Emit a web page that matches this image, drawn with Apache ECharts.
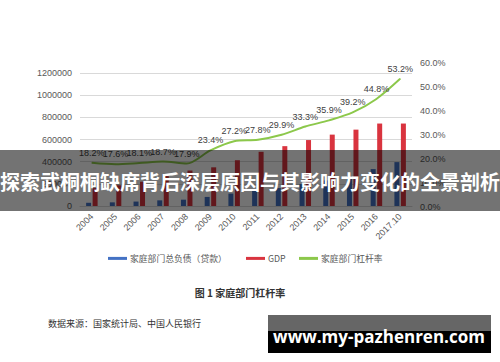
<!DOCTYPE html>
<html>
<head>
<meta charset="utf-8">
<script src="https://cdn.jsdelivr.net/npm/echarts@6/dist/echarts.min.js"></script>
<style>
html,body{margin:0;padding:0;background:#fff;}
#chart{width:500px;height:362px;}
</style>
</head>
<body>
<div id="chart"></div>
<script>
const categories = ['2004','2005','2006','2007','2008','2009','2010','2011','2012','2013','2014','2015','2016','2017.10'];
const householdDebt = [29000, 33000, 40000, 51000, 57000, 82000, 112000, 136000, 162000, 198000, 231000, 270000, 333000, 396000];
const gdp = [162000, 187000, 219000, 270000, 320000, 349000, 413000, 489000, 540000, 595000, 644000, 689000, 744000, 744000];
const leverage = [18.2, 17.6, 18.1, 18.7, 17.9, 23.4, 27.2, 27.8, 29.9, 33.3, 35.9, 39.2, 44.8, 53.2];
const leftTicks = {min: 0, max: 1200000, interval: 200000};
const rightTicks = {min: 0, max: 60, interval: 10};
const seriesNames = ['家庭部门总负债（贷款）', 'GDP', '家庭部门杠杆率'];
const captionText = '图 1 家庭部门杠杆率';
const sourceText = '数据来源：国家统计局、中国人民银行';
const bannerText = '探索武桐桐缺席背后深层原因与其影响力变化的全景剖析';
const watermarkText = 'www.my-pazhenren.com';

const FONT = 'Liberation Sans, Arial, Noto Sans CJK SC, sans-serif';
const CJK = 'Noto Sans CJK SC, sans-serif';
const chart = echarts.init(document.getElementById('chart'), null, {renderer: 'svg'});

const legendLefts = [103, 241, 294];
const legendBase = {
  top: 249, itemWidth: 19, itemHeight: 3,
  textStyle: {fontSize: 8.8, color: '#595959', fontFamily: CJK, padding: [0, 0, 0, -2]}
};

const option = {
  backgroundColor: '#ffffff',
  animation: false,
  textStyle: {fontFamily: FONT},
  grid: [
    {left: 80, right: 88, top: 73, bottom: 156},
    {left: 80, right: 88, top: 62.5, bottom: 155.5}
  ],
  legend: seriesNames.map((n, i) => Object.assign({}, legendBase, {
    left: legendLefts[i], data: [{name: n, icon: 'rect'}]
  })),
  xAxis: [
    {
      type: 'category', gridIndex: 0, data: categories,
      axisLine: {show: true, lineStyle: {color: '#d9d9d9'}},
      axisTick: {show: false},
      axisLabel: {rotate: 45, fontSize: 9, color: '#595959', margin: 9, interval: 0}
    },
    {type: 'category', gridIndex: 1, data: categories, show: false}
  ],
  yAxis: [
    {
      type: 'value', gridIndex: 0,
      min: leftTicks.min, max: leftTicks.max, interval: leftTicks.interval,
      axisLine: {show: false}, axisTick: {show: false},
      splitLine: {lineStyle: {color: '#d9d9d9'}},
      axisLabel: {fontSize: 9, color: '#595959', margin: 8, formatter: v => String(v)}
    },
    {
      type: 'value', gridIndex: 1, position: 'right',
      min: rightTicks.min, max: rightTicks.max, interval: rightTicks.interval,
      axisLine: {show: false}, axisTick: {show: false},
      splitLine: {show: false},
      axisLabel: {fontSize: 9, color: '#595959', margin: 8, formatter: v => v.toFixed(1) + '%'}
    }
  ],
  series: [
    {
      name: seriesNames[0], type: 'bar', xAxisIndex: 0, yAxisIndex: 0,
      data: householdDebt, barWidth: 5, barGap: '30%',
      itemStyle: {color: '#4472c4'}
    },
    {
      name: seriesNames[1], type: 'bar', xAxisIndex: 0, yAxisIndex: 0,
      data: gdp, barWidth: 5, barGap: '30%',
      itemStyle: {color: '#d9343f'}
    },
    {
      name: seriesNames[2], type: 'line', xAxisIndex: 1, yAxisIndex: 1,
      data: leverage, smooth: 0.3, symbol: 'circle', symbolSize: 1, showSymbol: true,
      lineStyle: {color: '#8cc84b', width: 2},
      itemStyle: {color: '#8cc84b'},
      label: {
        show: true, position: 'top', distance: 5,
        fontSize: 9, color: '#404040',
        formatter: p => p.value.toFixed(1) + '%'
      },
      z: 5
    }
  ],
  graphic: [
    {type: 'text', x: 240, y: 292, style: {text: captionText, font: 'bold 10px ' + CJK, fill: '#333', align: 'center', verticalAlign: 'middle'}},
    {type: 'text', x: 48, y: 323, style: {text: sourceText, font: '9px ' + CJK, fill: '#333', align: 'left', verticalAlign: 'middle'}},
    {type: 'rect', shape: {x: 0, y: 150, width: 500, height: 61}, style: {fill: 'rgba(0,0,0,0.55)'}, z: 100},
    {type: 'text', x: 250, y: 181, z: 101, style: {text: bannerText, font: 'bold 20px ' + CJK, fill: '#ffffff', align: 'center', verticalAlign: 'middle'}},
    {type: 'rect', shape: {x: 268, y: 315, width: 223, height: 16}, style: {fill: '#666666'}, z: 100},
    {type: 'rect', shape: {x: 268, y: 331, width: 223, height: 22}, style: {fill: '#000000'}, z: 100},
    {type: 'text', x: 379, y: 336, z: 101, style: {text: watermarkText, font: 'bold 17px Open Sans, Liberation Sans, sans-serif', fill: '#ffffff', align: 'center', verticalAlign: 'middle'}}
  ]
};
chart.setOption(option);
</script>
</body>
</html>
